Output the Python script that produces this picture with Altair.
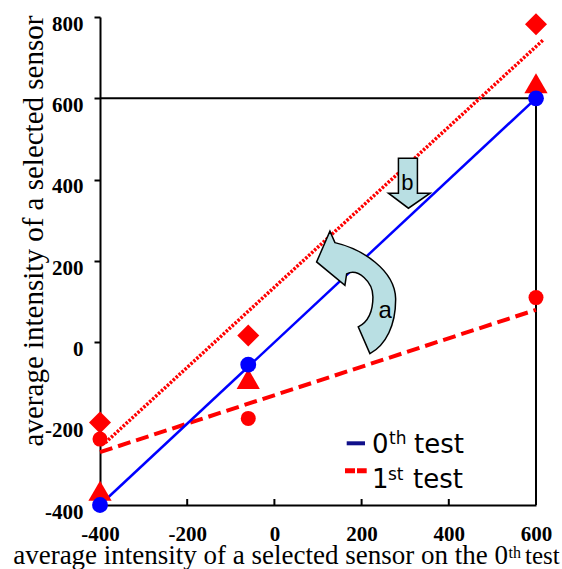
import altair as alt
import pandas as pd

# Average intensity of the selected sensors on the 0th test (x) and the
# averages read back on each test (y)
x_levels = [-400, -60, 600]
test0_circle = [-400, -55, 600]
test1_circle = [-238, -187, 110]
test1_diamond = [-197, 17, 782]
test1_triangle = [-365, -90, 637]

# End points of the fitted lines
line0_x = [-400, 600]
line0_y = [-400, 600]
dotted_x = [-388, 618]
dotted_y = [-247, 745]
dashed_x = [-400, 600]
dashed_y = [-270, 80]

x_ticks = [-400, -200, 0, 200, 400, 600]
y_ticks = [-400, -200, 0, 200, 400, 600, 800]

W, H = 436, 488
xs = alt.Scale(domain=[-400, 600], nice=False, zero=False)
ys = alt.Scale(domain=[-400, 800], nice=False, zero=False)

SERIF = "Liberation Serif"
SANS = "DejaVu Sans"
RED = "#ff0000"
BLUE = "#0000ff"
ARROW_FILL = "#b9dfe3"

# plain hyphen for negative tick labels
HYPHEN_LABEL = "datum.value < 0 ? '-' + abs(datum.value) : '' + datum.value"

x_axis = alt.Axis(values=x_ticks, title=None, grid=False, ticks=False, tickSize=0,
                  domainColor="black", domainWidth=2, labelFont=SERIF,
                  labelFontSize=21, labelFontWeight="bold", labelColor="black",
                  labelPadding=18, labelFlush=False, labelOverlap=False,
                  labelExpr=HYPHEN_LABEL)
y_axis = alt.Axis(values=y_ticks, title=None, grid=False, tickSize=6, tickWidth=2,
                  tickColor="black", domainColor="black", domainWidth=2,
                  labelFont=SERIF, labelFontSize=21, labelFontWeight="bold",
                  labelColor="black", labelPadding=11, labelOffset=7,
                  labelFlush=False, labelOverlap=False, labelExpr=HYPHEN_LABEL)


def X(field):
    return alt.X(field, type="quantitative", scale=xs, axis=x_axis)


def Y(field):
    return alt.Y(field, type="quantitative", scale=ys, axis=y_axis)


# Box closing the -400..600 square
frame_h = alt.Chart(pd.DataFrame({"x": [-400], "x2": [600], "y": [600]})).mark_rule(
    color="black", strokeWidth=2).encode(x=X("x"), x2="x2", y=Y("y"))
frame_v = alt.Chart(pd.DataFrame({"x": [600], "y": [-400], "y2": [600]})).mark_rule(
    color="black", strokeWidth=2).encode(x=X("x"), y=Y("y"), y2="y2")

# Inward tick marks on the x axis
x_tick_marks = alt.Chart(pd.DataFrame({"x": x_ticks})).mark_rule(
    color="black", strokeWidth=2).encode(x=X("x"), y=alt.value(H - 6), y2=alt.value(H))


def line(xv, yv, **kw):
    return alt.Chart(pd.DataFrame({"x": xv, "y": yv})).mark_line(**kw).encode(
        x=X("x"), y=Y("y"))


line0 = line(line0_x, line0_y, color=BLUE, strokeWidth=2.5)
dotted = line(dotted_x, dotted_y, color=RED, strokeWidth=3.5, strokeDash=[2.5, 1.5])
dashed = line(dashed_x, dashed_y, color=RED, strokeWidth=4, strokeDash=[13, 6])


def points(yv, shape, size, color):
    return alt.Chart(pd.DataFrame({"x": x_levels, "y": yv})).mark_point(
        shape=shape, size=size, filled=True, color=color, opacity=1,
        strokeWidth=0).encode(x=X("x"), y=Y("y"))


p_diamond = points(test1_diamond, "diamond", 484, RED)
p_triangle = points(test1_triangle, "triangle-up", 540, RED)
p_red = points(test1_circle, "circle", 225, RED)
p_blue = points(test0_circle, "circle", 250, BLUE)

# Annotation arrows (paths in pixel units around their centre; size 4 -> scale 1)
curved_path = ("M -39.3 -30 L -26 -60.7 L -21 -49.3 "
               "C 6 -43 39 -22 39.7 6.7 "
               "C 40 33 30 53 14 61.7 "
               "L 2.3 35 "
               "C 12 30 17 20 17 5 "
               "C 17 -10 2 -24 -9.3 -18 "
               "L -11 -6.7 Z")
down_path = ("M -10.7 -24.7 L 8.3 -24.7 L 8.3 10.3 L 21 10.3 L -0.7 25.3 "
             "L -20.7 10.3 L -10.7 10.3 Z")


def arrow(path, cx, cy):
    return alt.Chart(pd.DataFrame({"x": [cx], "y": [cy]})).mark_point(
        shape=path, size=4, filled=True, fill=ARROW_FILL, stroke="black",
        strokeWidth=1.5, opacity=1).encode(x=X("x"), y=Y("y"))


arrow_a = arrow(curved_path, 187, 124)
arrow_b = arrow(down_path, 309, 392)


def data_label(text, cx, cy, size):
    return alt.Chart(pd.DataFrame({"x": [cx], "y": [cy]})).mark_text(
        text=text, font="Liberation Sans", fontSize=size, color="black",
        align="center", baseline="middle").encode(x=X("x"), y=Y("y"))


label_a = data_label("a", 254, 77, 24)
label_b = data_label("b", 305, 391, 22)


def ptext(text, px, py, size, font, align="left", angle=0):
    kw = dict(text=text, font=font, fontSize=size, color="black", align=align,
              baseline="alphabetic")
    if angle:
        kw["angle"] = angle
    return alt.Chart(pd.DataFrame({"t": [0]})).mark_text(**kw).encode(
        x=alt.value(px), y=alt.value(py))


def prule(x1, x2, py, color, width, dash=None):
    kw = dict(color=color, strokeWidth=width)
    if dash:
        kw["strokeDash"] = dash
    return alt.Chart(pd.DataFrame({"t": [0]})).mark_rule(**kw).encode(
        x=alt.value(x1), x2=alt.value(x2), y=alt.value(py))


# Axis titles
y_title = ptext("average intensity of a selected sensor", -57, 214, 29, SERIF,
                align="center", angle=270)
x_title = [
    ptext("average intensity of a selected sensor on the 0", 408, 547, 27, SERIF,
          align="right"),
    ptext("th", 408.5, 541, 16, SERIF),
    ptext("test", 425, 547, 25, SERIF),
]

# Legend
legend = [
    prule(246.7, 265, 426.3, "#10108a", 4),
    ptext("0", 272, 436.3, 26, SANS),
    ptext("th", 289, 427, 17, SANS),
    ptext("test", 314, 436.3, 26, SANS),
    prule(245, 266.7, 453.7, RED, 5, [10, 2]),
    ptext("1", 272, 471.3, 26, SANS),
    ptext("st", 288, 463, 17, SANS),
    ptext("test", 313, 471.3, 26, SANS),
]

chart = alt.layer(
    frame_h, frame_v, x_tick_marks,
    dashed, dotted, line0,
    p_diamond, p_triangle, p_red, p_blue,
    arrow_a, arrow_b, label_a, label_b,
    y_title, *x_title, *legend,
).properties(
    width=W, height=H,
    padding={"left": 100, "top": 17, "right": 26, "bottom": 64},
    autosize=alt.AutoSizeParams(type="none"),
).configure_view(stroke=None)

chart.save("out.html", embed_options={"renderer": "svg", "actions": False})
